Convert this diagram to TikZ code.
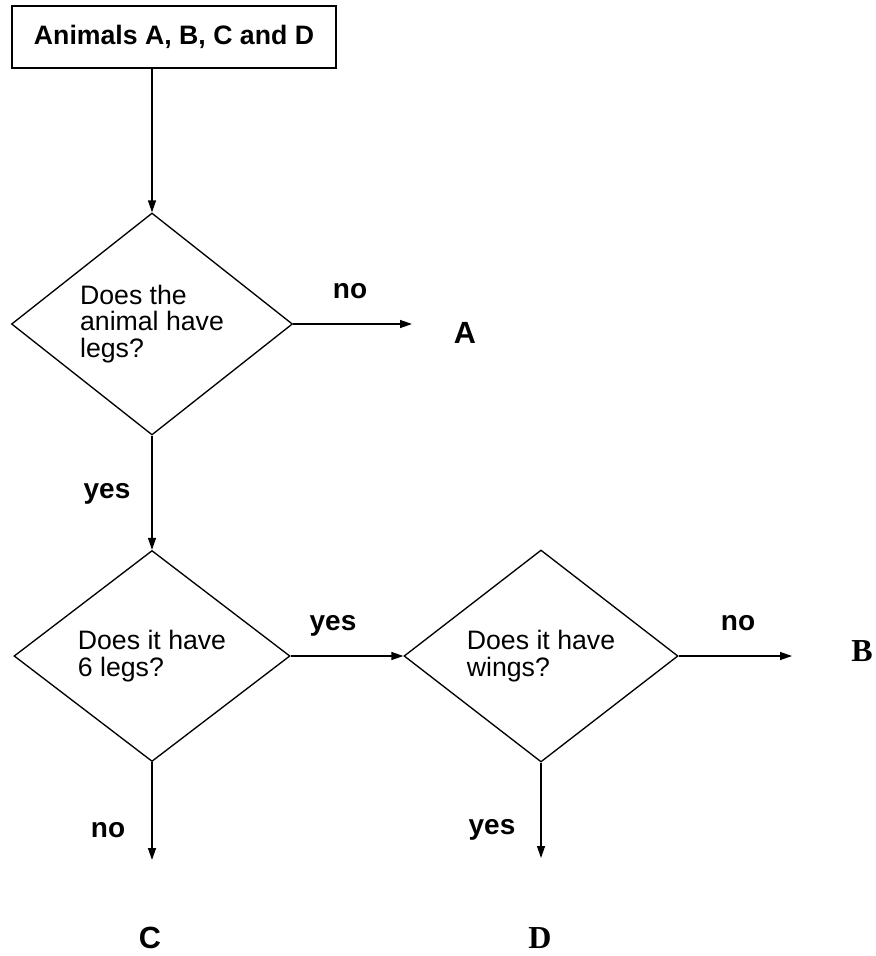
\documentclass[tikz,border=0pt]{standalone}
\usepackage{fontspec}
\setmainfont{Liberation Sans}
\newfontfamily\letterserif{Liberation Serif}
\usetikzlibrary{shapes.geometric,arrows.meta}

\tikzset{every picture/.style={line width=1pt}}
\tikzset{
  question/.style={draw, diamond, inner sep=0pt, align=left, font=\fontsize{20}{20}\selectfont},
  startbox/.style={draw, rectangle, inner sep=0pt, minimum width=243pt, minimum height=46.5pt, font=\bfseries\fontsize{20}{20}\selectfont},
  answer/.style={inner sep=0.75pt, font=\bfseries\fontsize{21}{21}\selectfont},
  animal/.style={inner sep=0.75pt, font=\bfseries\fontsize{23}{23}\selectfont},
  serifanimal/.style={inner sep=0.75pt, font=\letterserif\bfseries\fontsize{24}{24}\selectfont},
  flow/.style={-{Triangle[length=9pt,width=6pt]}}
}

\begin{document}
\begin{tikzpicture}[x=0.75pt,y=0.75pt,yscale=-1,xscale=1]
\useasboundingbox (0,0) rectangle (875,956);

% Start box
\node [startbox] (start) at (174,37) {Animals A, B, C and D};

% Questions
\node [question, minimum width=210.75pt, minimum height=159pt] (legs) at (152,324) {Does the\\animal have\\legs?};
\node [question, minimum width=207pt, minimum height=158.25pt] (six) at (152,656) {Does it have\\6 legs?};
\node [question, minimum width=205.5pt, minimum height=159pt] (wings) at (541,656) {Does it have\\wings?};

% Animals
\node [animal] (animalA) at (465,333) {A};
\node [serifanimal] (animalB) at (862,651) {B};
\node [animal] (animalC) at (150,938) {C};
\node [serifanimal] (animalD) at (540,938) {D};

% Arrow ends
\coordinate (toA) at (412,324);
\coordinate (toB) at (792,656);
\coordinate (toC) at (152,860);
\coordinate (toD) at (541,858);

% Connectors
\draw [flow] (start.south -| legs.north) -- (legs.north);
\draw [flow] (legs.east) -- (toA);
\draw [flow] (legs.south) -- (six.north);
\draw [flow] (six.east) -- (wings.west);
\draw [flow] (wings.east) -- (toB);
\draw [flow] (six.south) -- (toC);
\draw [flow] (wings.south) -- (toD);

% Text Node
\node [answer] (noLegs) at (350,291) {no};
% Text Node
\node [answer] (yesLegs) at (107,494) {yes};
% Text Node
\node [answer] (yesSix) at (333,626) {yes};
% Text Node
\node [answer] (noWings) at (738,623) {no};
% Text Node
\node [answer] (noSix) at (108,830) {no};
% Text Node
\node [answer] (yesWings) at (492,830) {yes};

\end{tikzpicture}
\end{document}
